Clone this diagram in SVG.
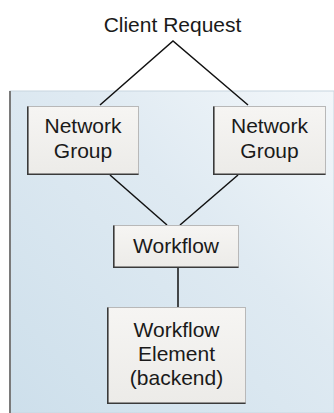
<svg xmlns="http://www.w3.org/2000/svg" width="334" height="413" viewBox="0 0 334 413">
<style>
text{font-family:"Liberation Sans",Arial,sans-serif;font-size:21px;fill:#1a1a1a;text-anchor:middle}
.box{fill:url(#boxg);stroke:#b8b8b8;stroke-width:1}
.sh{fill:none;stroke:#3a3a3a;stroke-width:1.6}
.conn{stroke:#111;stroke-width:1.5;fill:none}
</style>
<defs>
<linearGradient id="panelg" x1="0" y1="1" x2="1" y2="0">
<stop offset="0" stop-color="#cddfeb"/>
<stop offset="0.6" stop-color="#dfeaf2"/>
<stop offset="1" stop-color="#f3f7fa"/>
</linearGradient>
<linearGradient id="boxg" x1="0" y1="0" x2="0" y2="1">
<stop offset="0" stop-color="#f6f5f3"/>
<stop offset="1" stop-color="#ecebe8"/>
</linearGradient>
</defs>
<g id="panel">
<rect x="10" y="91" width="324" height="322" fill="url(#panelg)" stroke="#c8d6e0" stroke-width="1"/>
<line x1="10" y1="91" x2="10" y2="413" stroke="#7a7a7a" stroke-width="2"/>
</g>
<g id="connectors">
<polyline class="conn" points="100,105 173,41 248,105"/>
<line class="conn" x1="110" y1="175" x2="167" y2="225"/>
<line class="conn" x1="238" y1="175" x2="180" y2="225"/>
<line class="conn" x1="178" y1="268" x2="178" y2="307"/>
</g>
<g id="client-request">
<text x="172.5" y="32">Client Request</text>
</g>
<g id="network-group-1">
<rect class="box" x="27.5" y="106.5" width="111" height="68"/>
<polyline class="sh" points="27.8,106.5 27.8,174.2 138.5,174.2"/>
<text x="83" y="133">Network</text>
<text x="83" y="158">Group</text>
</g>
<g id="network-group-2">
<rect class="box" x="213.5" y="106.5" width="112" height="68"/>
<polyline class="sh" points="213.8,106.5 213.8,174.2 325.5,174.2"/>
<text x="269.5" y="133">Network</text>
<text x="269.5" y="158">Group</text>
</g>
<g id="workflow">
<rect class="box" x="113.5" y="225.5" width="125" height="42"/>
<polyline class="sh" points="113.8,225.5 113.8,267.2 238.5,267.2"/>
<text x="176" y="253">Workflow</text>
</g>
<g id="workflow-element">
<rect class="box" x="107.5" y="307.5" width="138" height="96"/>
<polyline class="sh" points="107.8,307.5 107.8,403.2 245.5,403.2"/>
<text x="176.5" y="337">Workflow</text>
<text x="176.5" y="361">Element</text>
<text x="176.5" y="385">(backend)</text>
</g>
</svg>
